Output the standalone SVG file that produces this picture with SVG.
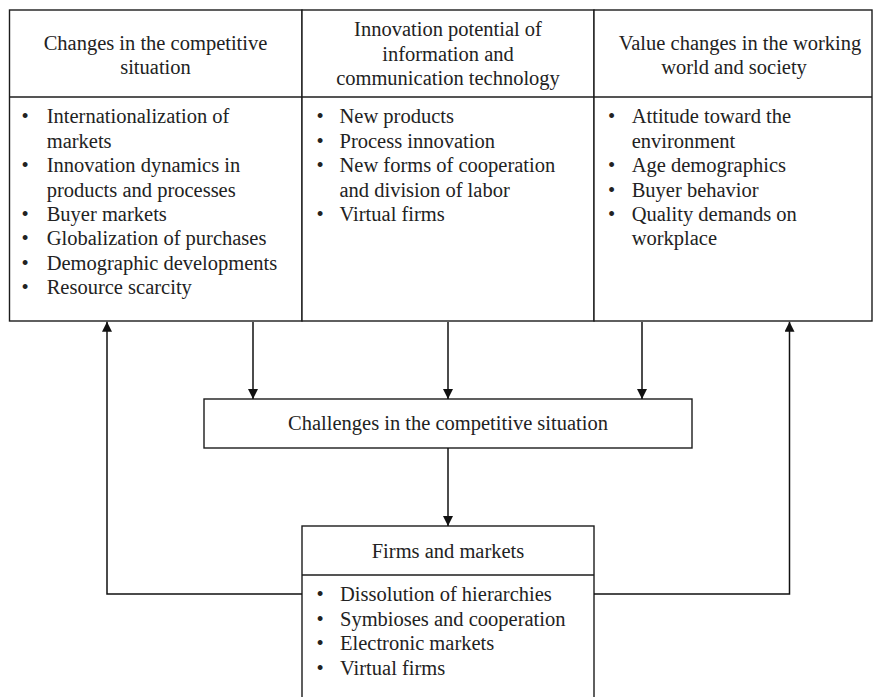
<svg xmlns="http://www.w3.org/2000/svg" width="876" height="697" viewBox="0 0 876 697">
  <style>
    .box { fill: #ffffff; stroke: #1c1c1c; stroke-width: 1.4; }
    .rule { fill: none; stroke: #1c1c1c; stroke-width: 1.4; }
    .edge { fill: none; stroke: #111111; stroke-width: 1.5; }
    text { font-family: "Liberation Serif", "Times New Roman", serif; font-size: 20.5px; fill: #222222; }
    .c { text-anchor: middle; }
  </style>
  <defs>
    <marker id="arrow" viewBox="0 0 10 10" refX="10" refY="5" markerWidth="10" markerHeight="10" markerUnits="userSpaceOnUse" orient="auto">
      <path d="M0,0 L10,5 L0,10 z" fill="#111111"/>
    </marker>
  </defs>

  <rect width="876" height="697" fill="#ffffff"/>

  <!-- Driver: competitive situation -->
  <g id="node-competition">
    <rect class="box" x="9.5" y="10" width="292.5" height="311"/>
    <line class="rule" x1="9.5" y1="97" x2="302" y2="97"/>
    <text class="c" x="155.5" y="50">Changes in the competitive</text>
    <text class="c" x="155.5" y="74">situation</text>
    <text x="21.5" y="123.3">•</text><text x="46.7" y="123.3">Internationalization of</text>
    <text x="46.7" y="147.7">markets</text>
    <text x="21.5" y="172.1">•</text><text x="46.7" y="172.1">Innovation dynamics in</text>
    <text x="46.7" y="196.5">products and processes</text>
    <text x="21.5" y="220.9">•</text><text x="46.7" y="220.9">Buyer markets</text>
    <text x="21.5" y="245.3">•</text><text x="46.7" y="245.3">Globalization of purchases</text>
    <text x="21.5" y="269.7">•</text><text x="46.7" y="269.7">Demographic developments</text>
    <text x="21.5" y="294.1">•</text><text x="46.7" y="294.1">Resource scarcity</text>
  </g>

  <!-- Driver: ICT innovation potential -->
  <g id="node-ict">
    <rect class="box" x="302" y="10" width="292" height="311"/>
    <line class="rule" x1="302" y1="97" x2="594" y2="97"/>
    <text class="c" x="448" y="36">Innovation potential of</text>
    <text class="c" x="448" y="61">information and</text>
    <text class="c" x="448" y="85">communication technology</text>
    <text x="316.5" y="123.3">•</text><text x="339.5" y="123.3">New products</text>
    <text x="316.5" y="147.7">•</text><text x="339.5" y="147.7">Process innovation</text>
    <text x="316.5" y="172.1">•</text><text x="339.5" y="172.1">New forms of cooperation</text>
    <text x="339.5" y="196.5">and division of labor</text>
    <text x="316.5" y="220.9">•</text><text x="339.5" y="220.9">Virtual firms</text>
  </g>

  <!-- Driver: value changes -->
  <g id="node-values">
    <rect class="box" x="594" y="10" width="278" height="311"/>
    <line class="rule" x1="594" y1="97" x2="872" y2="97"/>
    <text class="c" x="740" y="50">Value changes in the working</text>
    <text class="c" x="734" y="74">world and society</text>
    <text x="608" y="123.3">•</text><text x="631.7" y="123.3">Attitude toward the</text>
    <text x="631.7" y="147.7">environment</text>
    <text x="608" y="172.1">•</text><text x="631.7" y="172.1">Age demographics</text>
    <text x="608" y="196.5">•</text><text x="631.7" y="196.5">Buyer behavior</text>
    <text x="608" y="220.9">•</text><text x="631.7" y="220.9">Quality demands on</text>
    <text x="631.7" y="245.3">workplace</text>
  </g>

  <!-- Challenges -->
  <g id="node-challenges">
    <rect class="box" x="204" y="399" width="488" height="49"/>
    <text class="c" x="448" y="430">Challenges in the competitive situation</text>
  </g>

  <!-- Firms and markets -->
  <g id="node-firms">
    <rect class="box" x="302" y="526" width="292" height="180"/>
    <line class="rule" x1="302" y1="575" x2="594" y2="575"/>
    <text class="c" x="448" y="557.5">Firms and markets</text>
    <text x="316.5" y="601">•</text><text x="340" y="601">Dissolution of hierarchies</text>
    <text x="316.5" y="625.6">•</text><text x="340" y="625.6">Symbioses and cooperation</text>
    <text x="316.5" y="650.2">•</text><text x="340" y="650.2">Electronic markets</text>
    <text x="316.5" y="674.8">•</text><text x="340" y="674.8">Virtual firms</text>
  </g>

  <!-- Connectors -->
  <g id="connectors">
    <line class="edge" x1="253" y1="322" x2="253" y2="399" marker-end="url(#arrow)"/>
    <line class="edge" x1="448" y1="322" x2="448" y2="399" marker-end="url(#arrow)"/>
    <line class="edge" x1="642" y1="322" x2="642" y2="399" marker-end="url(#arrow)"/>
    <line class="edge" x1="448" y1="448" x2="448" y2="526" marker-end="url(#arrow)"/>
    <path class="edge" d="M302,594 H107 V321.7" marker-end="url(#arrow)"/>
    <path class="edge" d="M594,594 H789.5 V321.7" marker-end="url(#arrow)"/>
  </g>
</svg>
